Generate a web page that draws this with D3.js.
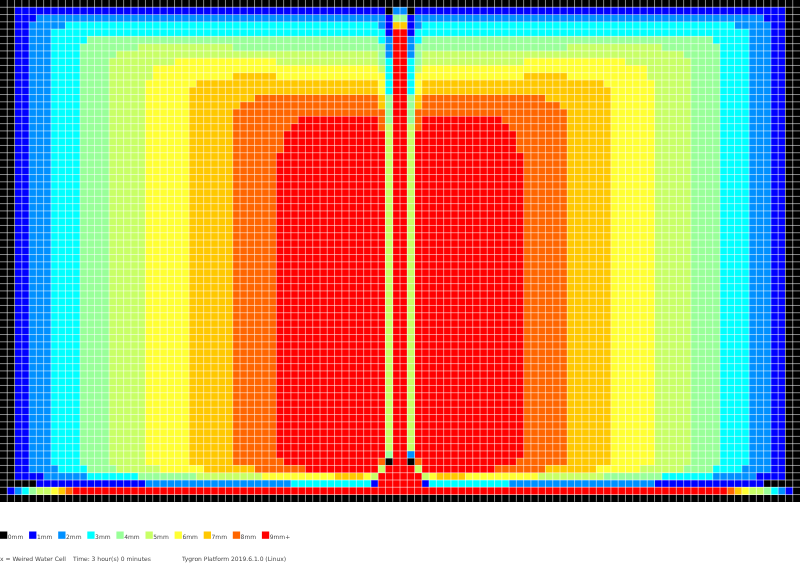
<!DOCTYPE html>
<html><head><meta charset="utf-8">
<script src="https://cdn.jsdelivr.net/npm/d3@7/dist/d3.min.js"></script>
<style>html,body{margin:0;padding:0;background:#fff}svg{display:block;will-change:transform}text{font-family:"DejaVu Sans",sans-serif;font-size:6px;fill:#333;opacity:.9}</style>
</head><body><svg id="c" width="800" height="575"></svg>
<script>
const levels=[0,1,2,3,4,5,6,7,8,9];
const legendLabels=["0mm","1mm","2mm","3mm","4mm","5mm","6mm","7mm","8mm","9mm+"];
const levelColors=["#000000","#0000ff","#0090ff","#00ffff","#99ff99","#c8ff66","#ffff33","#ffc800","#ff6600","#ff0000"];
const footerTexts=[["x = Weired Water Cell",0],["Time: 3 hour(s) 0 minutes",73],["Tygron Platform 2019.6.1.0 (Linux)",182]];
// each row: run-length list of water level : cell count
const rows=[
"0:110",
"0:2 1:51 0:1 2:2 0:1 1:51 0:2",
"0:2 1:3 2:48 1:1 4:2 1:1 2:48 1:3 0:2",
"0:2 1:2 2:5 3:43 2:1 1:1 7:2 1:1 2:1 3:43 2:5 1:2 0:2",
"0:2 1:2 2:3 3:46 1:1 9:2 1:1 3:46 2:3 1:2 0:2",
"0:2 1:2 2:3 3:5 4:40 3:1 2:1 9:2 2:1 3:1 4:40 3:5 2:3 1:2 0:2",
"0:2 1:2 2:3 3:4 4:8 5:13 4:21 2:1 9:2 2:1 4:21 5:13 4:8 3:4 2:3 1:2 0:2",
"0:2 1:2 2:3 3:4 4:5 5:36 4:1 2:1 9:2 2:1 4:1 5:36 4:5 3:4 2:3 1:2 0:2",
"0:2 1:2 2:3 3:4 4:4 5:9 6:14 5:14 4:1 3:1 9:2 3:1 4:1 5:14 6:14 5:9 4:4 3:4 2:3 1:2 0:2",
"0:2 1:2 2:3 3:4 4:4 5:6 6:31 5:1 3:1 9:2 3:1 5:1 6:31 5:6 4:4 3:4 2:3 1:2 0:2",
"0:2 1:2 2:3 3:4 4:4 5:6 6:11 7:6 6:15 3:1 9:2 3:1 6:15 7:6 6:11 5:6 4:4 3:4 2:3 1:2 0:2",
"0:2 1:2 2:3 3:4 4:4 5:5 6:7 7:25 6:1 3:1 9:2 3:1 6:1 7:25 6:7 5:5 4:4 3:4 2:3 1:2 0:2",
"0:2 1:2 2:3 3:4 4:4 5:5 6:6 7:26 6:1 3:1 9:2 3:1 6:1 7:26 6:6 5:5 4:4 3:4 2:3 1:2 0:2",
"0:2 1:2 2:3 3:4 4:4 5:5 6:6 7:9 8:17 7:1 4:1 9:2 4:1 7:1 8:17 7:9 6:6 5:5 4:4 3:4 2:3 1:2 0:2",
"0:2 1:2 2:3 3:4 4:4 5:5 6:6 7:7 8:19 7:1 4:1 9:2 4:1 7:1 8:19 7:7 6:6 5:5 4:4 3:4 2:3 1:2 0:2",
"0:2 1:2 2:3 3:4 4:4 5:5 6:6 7:6 8:21 4:1 9:2 4:1 8:21 7:6 6:6 5:5 4:4 3:4 2:3 1:2 0:2",
"0:2 1:2 2:3 3:4 4:4 5:5 6:6 7:6 8:9 9:11 8:1 4:1 9:2 4:1 8:1 9:11 8:9 7:6 6:6 5:5 4:4 3:4 2:3 1:2 0:2",
"0:2 1:2 2:3 3:4 4:4 5:5 6:6 7:6 8:8 9:12 8:1 5:1 9:2 5:1 8:1 9:12 8:8 7:6 6:6 5:5 4:4 3:4 2:3 1:2 0:2",
"0:2 1:2 2:3 3:4 4:4 5:5 6:6 7:6 8:7 9:14 5:1 9:2 5:1 9:14 8:7 7:6 6:6 5:5 4:4 3:4 2:3 1:2 0:2",
"0:2 1:2 2:3 3:4 4:4 5:5 6:6 7:6 8:7 9:14 5:1 9:2 5:1 9:14 8:7 7:6 6:6 5:5 4:4 3:4 2:3 1:2 0:2",
"0:2 1:2 2:3 3:4 4:4 5:5 6:6 7:6 8:7 9:14 5:1 9:2 5:1 9:14 8:7 7:6 6:6 5:5 4:4 3:4 2:3 1:2 0:2",
...Array.from({length:41},()=>"0:2 1:2 2:3 3:4 4:4 5:5 6:6 7:6 8:6 9:15 5:1 9:2 5:1 9:15 8:6 7:6 6:6 5:5 4:4 3:4 2:3 1:2 0:2"),
"0:2 1:2 2:3 3:4 4:4 5:5 6:6 7:6 8:6 9:15 4:1 9:2 2:1 9:15 8:6 7:6 6:6 5:5 4:4 3:4 2:3 1:2 0:2",
"0:2 1:2 2:3 3:4 4:4 5:5 6:6 7:6 8:7 9:13 8:1 0:1 9:2 0:1 8:1 9:13 8:7 7:6 6:6 5:5 4:4 3:4 2:3 1:2 0:2",
"0:2 1:2 2:4 3:4 4:4 5:6 6:6 7:7 8:7 9:10 5:1 9:4 5:1 9:10 8:7 7:7 6:6 5:6 4:4 3:4 2:4 1:2 0:2",
"0:2 1:4 2:6 3:7 4:8 5:9 6:10 7:4 6:1 5:1 9:6 5:1 6:1 7:4 6:10 5:9 4:8 3:7 2:6 1:4 0:2",
"0:5 1:15 2:20 3:11 1:1 9:6 1:1 3:11 2:20 1:15 0:5",
"0:1 1:1 2:1 3:1 4:1 5:2 6:1 7:1 8:1 9:90 8:1 7:1 6:1 5:2 4:1 3:1 2:1 1:1 0:1",
"0:110"
];
const grid=rows.map(r=>r.split(" ").flatMap(p=>{const [v,n]=p.split(":").map(Number);return d3.range(n).map(()=>v)}));
const bad=grid.findIndex(r=>r.length!==110);
if(bad>=0||grid.length!==69) throw new Error("grid "+bad+" "+grid.length);
const nCols=110,nRows=69,cell=800/110;
const x=d3.scaleBand().domain(d3.range(nCols)).range([0,800]);
const y=d3.scaleBand().domain(d3.range(nRows)).range([0,nRows*cell]);
const color=d3.scaleOrdinal().domain(levels).range(levelColors);
const svg=d3.select("#c");
const cells=grid.flatMap((r,j)=>r.map((v,i)=>({i,j,v})));
svg.append("g").attr("shape-rendering","crispEdges").selectAll("rect").data(cells).join("rect")
 .attr("x",d=>x(d.i)).attr("y",d=>y(d.j)).attr("width",x.bandwidth()+.5).attr("height",y.bandwidth()+.5).attr("fill",d=>color(d.v));
const g=svg.append("g").attr("stroke","#fff").attr("stroke-width",.75).attr("stroke-opacity",.7);
g.selectAll(".v").data(d3.range(1,nCols)).join("line").attr("class","v").attr("x1",d=>x(d)).attr("x2",d=>x(d)).attr("y1",0).attr("y2",nRows*cell);
g.selectAll(".h").data(d3.range(1,nRows)).join("line").attr("class","h").attr("x1",0).attr("x2",800).attr("y1",d=>y(d)).attr("y2",d=>y(d));
const lx=d3.scaleBand().domain(levels).range([0,291]);
const leg=svg.append("g").selectAll("g").data(levels).join("g").attr("transform",d=>`translate(${lx(d)},0)`);
leg.append("rect").attr("x",0).attr("y",531.5).attr("width",7.3).attr("height",7.3).attr("fill",d=>color(d));
leg.append("text").attr("x",7.8).attr("y",538.6).text(d=>legendLabels[d]);
svg.append("g").selectAll("text").data(footerTexts).join("text").attr("x",d=>d[1]).attr("y",560.6).text(d=>d[0]);
</script></body></html>
